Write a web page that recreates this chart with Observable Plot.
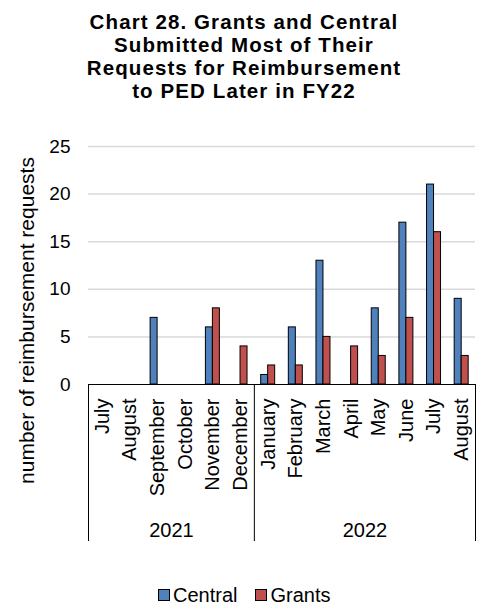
<!DOCTYPE html>
<html>
<head>
<meta charset="utf-8">
<script src="https://cdn.jsdelivr.net/npm/d3@7"></script>
<script src="https://cdn.jsdelivr.net/npm/@observablehq/plot@0.6"></script>
<style>
  body { margin: 0; background: #fff; font-family: "Liberation Sans", Arial, sans-serif; color: #000; }
  #wrap { position: relative; width: 482px; height: 604px; overflow: hidden; }
  #title { position: absolute; left: 0; top: 10px; width: 482px; padding-left: 6px; box-sizing: border-box; font-weight: bold; font-size: 20.5px; line-height: 23px; letter-spacing: 1.1px; text-align: center; }
  #chart { position: absolute; left: 0; top: 100px; }
  #legend { position: absolute; left: 158px; top: 585px; height: 20px; display: flex; align-items: center; font-size: 20px; }
  .sw { display: inline-block; width: 12px; height: 12px; box-sizing: border-box; border: 1px solid #000; margin-right: 3px; }
  .item { display: flex; align-items: center; margin-right: 18px; }
</style>
</head>
<body>
<div id="wrap">
  <div id="chart"></div>
  <div id="title">Chart 28. Grants and Central<br>Submitted Most of Their<br>Requests for Reimbursement<br>to PED Later in FY22</div>
  <div id="legend"></div>
</div>
<script>
// ---- Data ----
const months = ["July","August","September","October","November","December",
                "January","February","March","April","May","June","July","August"];
const yearLabels = ["2021", "2022"];
const yearMonthCounts = [6, 8];
const central = [0, 0, 7, 0, 6, 0, 1, 6, 13, 0, 8, 17, 21, 9];
const grants  = [0, 0, 0, 0, 8, 4, 2, 2, 5, 4, 3, 7, 16, 3];
const seriesNames = ["Central", "Grants"];
const seriesColors = ["#4f81bd", "#c0504d"];
const yTicks = [0, 5, 10, 15, 20, 25];
const yLabel = "number of reimbursement requests";

// ---- Derived tables ----
const long = [];
months.forEach((m, i) => {
  long.push({i, series: "Central", value: central[i]});
  long.push({i, series: "Grants", value: grants[i]});
});
const barsData = long.filter(d => d.value > 0);

const yearStarts = [0];
yearMonthCounts.forEach(c => yearStarts.push(yearStarts[yearStarts.length - 1] + c));
const yearData = yearLabels.map((label, k) => ({label, mid: (yearStarts[k] + yearStarts[k + 1]) / 2}));

const barFrac = 0.253; // bar width as fraction of a month slot

const font = '"Liberation Sans", Arial, sans-serif';

const chart = Plot.plot({
  width: 482,
  height: 475,
  marginTop: 46,
  marginBottom: 191,
  marginLeft: 88,
  marginRight: 7,
  style: {fontFamily: font, fontSize: "19px", color: "#000", background: "#fff"},
  x: {type: "linear", domain: [0, months.length]},
  y: {domain: [0, 25]},
  color: {domain: seriesNames, range: seriesColors},
  marks: [
    Plot.gridY(yTicks.filter(v => v > 0), {stroke: "#d9d9d9", strokeOpacity: 1, strokeWidth: 1.5}),
    Plot.rectY(barsData, {
      x1: d => d.i + 0.5 - (d.series === "Central" ? barFrac : 0),
      x2: d => d.i + 0.5 + (d.series === "Grants" ? barFrac : 0),
      y1: 0,
      y2: "value",
      fill: "series",
      stroke: "#000",
      strokeWidth: 1
    }),
    Plot.ruleY([0], {stroke: "#000", strokeWidth: 1}),
    Plot.axisY({ticks: yTicks, tickSize: 0, tickPadding: 18, fontSize: 19, label: null}),
    Plot.axisX({
      ticks: months.map((m, i) => i + 0.5),
      tickFormat: v => months[Math.floor(v)],
      tickRotate: -90, tickSize: 0, tickPadding: 14, fontSize: 20, label: null
    }),
    Plot.axisX({ticks: yearStarts, tickSize: 157, tickFormat: () => "", stroke: "#000", strokeWidth: 1, label: null}),
    Plot.text(yearData, {x: "mid", text: "label", frameAnchor: "bottom", lineAnchor: "middle", dy: 146, fontSize: 20}),
    Plot.text([yLabel], {frameAnchor: "left", textAnchor: "middle", lineAnchor: "middle", rotate: -90, dx: -61, dy: 55, fontSize: 21})
  ]
});
document.getElementById("chart").appendChild(chart);

// ---- Legend ----
const legend = document.getElementById("legend");
seriesNames.forEach((name, k) => {
  const item = document.createElement("div");
  item.className = "item";
  const sw = document.createElement("span");
  sw.className = "sw";
  sw.style.background = seriesColors[k];
  const t = document.createElement("span");
  t.textContent = name;
  item.appendChild(sw);
  item.appendChild(t);
  legend.appendChild(item);
});
</script>
</body>
</html>
